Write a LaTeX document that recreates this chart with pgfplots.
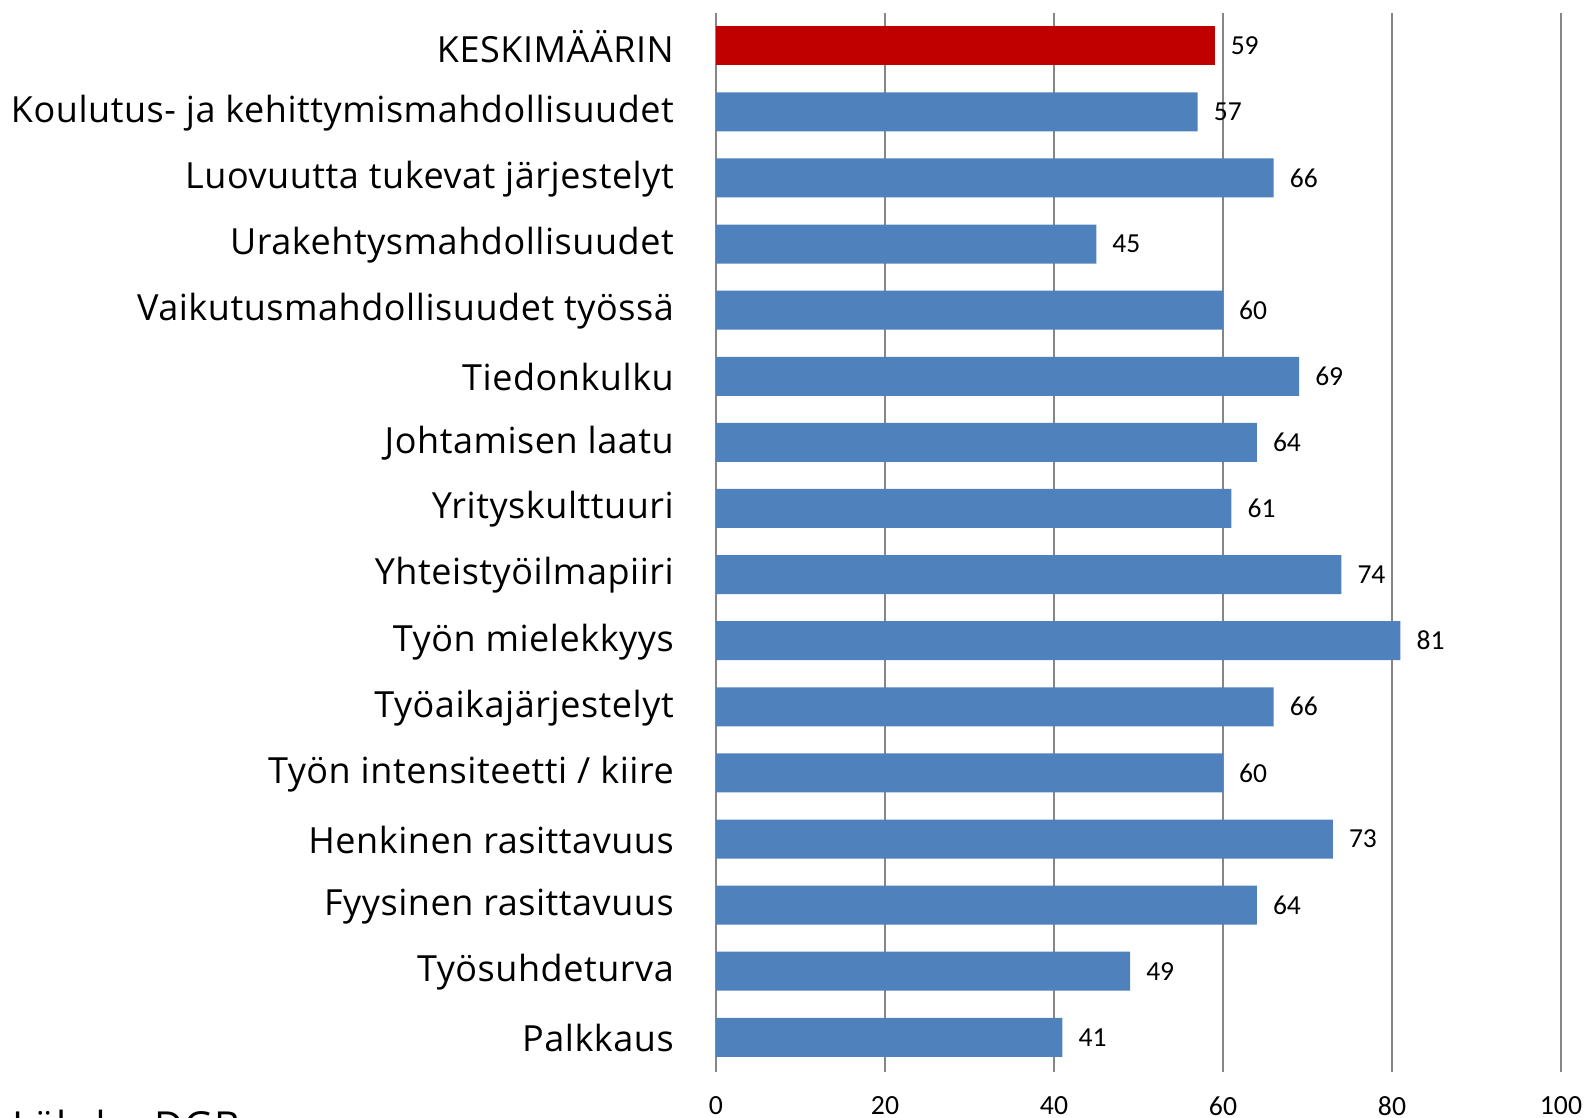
\documentclass[border=0pt]{standalone}
\usepackage{pgfplots}
\pgfplotsset{compat=1.18}
\usepackage{fontspec}
\setmainfont[LetterSpace=1.5]{Open Sans}
\newfontfamily\numfont{Carlito}
\definecolor{barblue}{HTML}{4F81BD}
\definecolor{barred}{HTML}{C00000}
\definecolor{gridgray}{HTML}{868686}
\begin{document}
\begin{tikzpicture}
\path[use as bounding box] (0bp,0bp) rectangle (1587bp,1118bp);
\begin{axis}[at={(716bp,46.3bp)}, anchor=south west, scale only axis,
 width=845bp, height=1059bp,
 xmin=0, xmax=100, ymin=-0.52, ymax=15.5,
 xtick={0,20,...,100}, ytick={0,...,15},
 yticklabels={Palkkaus, Työsuhdeturva, Fyysinen rasittavuus, Henkinen rasittavuus,
   Työn intensiteetti / kiire, Työaikajärjestelyt, Työn mielekkyys, Yhteistyöilmapiiri,
   Yrityskulttuuri, Johtamisen laatu, Tiedonkulku, Vaikutusmahdollisuudet työssä,
   Urakehtysmahdollisuudet, Luovuutta tukevat järjestelyt,
   Koulutus- ja kehittymismahdollisuudet, KESKIMÄÄRIN\hspace{17bp}},
 xmajorgrids, grid style={gridgray, line width=1.8bp},
 axis line style={draw=none}, major tick length=0pt,
 /pgf/number format/assume math mode=true,
 xticklabel style={font=\numfont\fontsize{27.7bp}{28bp}\selectfont, anchor=north, inner sep=0pt, yshift=-25bp},
 yticklabel style={font=\fontsize{36bp}{37bp}\selectfont, anchor=east, inner sep=0pt, xshift=-42bp, yshift=-1bp},
 xbar, bar width=39bp, bar shift=0pt,
 nodes near coords,
 nodes near coords style={font=\numfont\fontsize{27.5bp}{28bp}\selectfont, anchor=west, inner sep=0pt, xshift=16bp, text=black},
 clip=false,
]
\addplot[fill=barblue, draw=none] coordinates {
 (41,0) (49,1) (64,2) (73,3) (60,4) (66,5) (81,6) (74,7)
 (61,8) (64,9) (69,10) (60,11) (45,12) (66,13) (57,14)};
\addplot[fill=barred, draw=none] coordinates {(59,15)};
\end{axis}
\node[anchor=north west, inner sep=0pt, font=\fontsize{40bp}{41bp}\selectfont] at (12bp,8bp) {Lähde: DGB};
\end{tikzpicture}
\end{document}
